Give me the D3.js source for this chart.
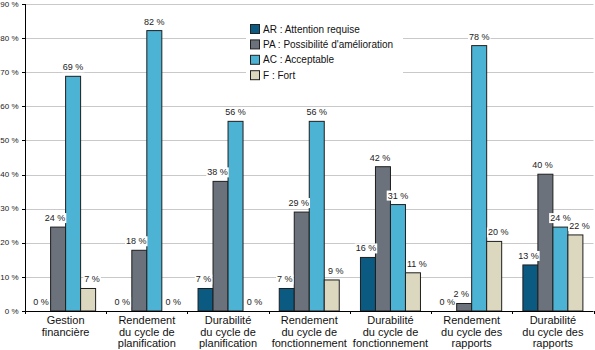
<!DOCTYPE html>
<html>
<head>
<meta charset="utf-8">
<script src="https://cdn.jsdelivr.net/npm/d3@7/dist/d3.min.js"></script>
<style>
  body { margin: 0; background: #fff; }
  svg { display: block; font-family: "Liberation Sans", Arial, sans-serif; }
</style>
</head>
<body>
<svg id="chart" width="595" height="350"></svg>
<script>
// categories (multi-line labels)
const categories = [
    ["Gestion", "financière"],
    ["Rendement", "du cycle de", "planification"],
    ["Durabilité", "du cycle de", "planification"],
    ["Rendement", "du cycle de", "fonctionnement"],
    ["Durabilité", "du cycle de", "fonctionnement"],
    ["Rendement", "du cycle des", "rapports"],
    ["Durabilité", "du cycle des", "rapports"]
]

const series = ["AR", "PA", "AC", "F"]
const seriesNames = ["AR : Attention requise", "PA : Possibilité d'amélioration", "AC : Acceptable", "F : Fort"]
const colors = ["#0b5a82", "#6b727b", "#4db3d4", "#dcd8bf"]

// values
const valuesAR = [0, 0, 6.6, 6.6, 15.7, 0, 13.5]
const valuesPA = [24.6, 17.8, 38.0, 29.0, 42.3, 2.2, 40.1]
const valuesAC = [68.8, 82.2, 55.6, 55.6, 31.2, 77.8, 24.6]
const valuesF = [6.6, 0, 0, 9.1, 11.2, 20.4, 22.3]

// printed labels
const labelsAR = ["0 %", "0 %", "7 %", "7 %", "16 %", "0 %", "13 %"]
const labelsPA = ["24 %", "18 %", "38 %", "29 %", "42 %", "2 %", "40 %"]
const labelsAC = ["69 %", "82 %", "56 %", "56 %", "31 %", "78 %", "24 %"]
const labelsF = ["7 %", "0 %", "0 %", "9 %", "11 %", "20 %", "22 %"]

const yTicks = [0, 10, 20, 30, 40, 50, 60, 70, 80, 90]

const allValues = [valuesAR, valuesPA, valuesAC, valuesF]
const allLabels = [labelsAR, labelsPA, labelsAC, labelsF]
const labelShift = [-2, -3, 0, 4]

const svg = d3.select("#chart")

const x0 = d3.scaleBand()
    .domain(d3.range(categories.length))
    .range([25, 593.5])
    .padding(0)

const groupWidth = 60
const x1 = d3.scaleBand()
    .domain(series)
    .range([0, groupWidth])

const y = d3.scaleLinear()
    .domain([0, 90])
    .range([311, 4])

// gridlines
svg.append("g")
    .selectAll("line")
    .data(yTicks.slice(1))
    .join("line")
    .attr("x1", 25)
    .attr("x2", 593.5)
    .attr("y1", d => Math.round(y(d)) + 0.5)
    .attr("y2", d => Math.round(y(d)) + 0.5)
    .style("stroke", "#c9c9c9")
    .style("stroke-width", 1)

// legend background
svg.append("rect")
    .attr("x", 246)
    .attr("y", 16)
    .attr("width", 157)
    .attr("height", 70)
    .style("fill", "#fff")

// bars
const rows = []
for (let s = 0; s < series.length; s++) {
    for (let i = 0; i < categories.length; i++) {
        rows.push({
            serie: series[s],
            s: s,
            i: i,
            value: allValues[s][i],
            label: allLabels[s][i]
        })
    }
}

const offset = (x0.bandwidth() - groupWidth) / 2

svg.append("g")
    .selectAll("rect")
    .data(rows.filter(d => d.value > 0))
    .join("rect")
    .attr("x", d => x0(d.i) + offset + x1(d.serie))
    .attr("y", d => y(d.value))
    .attr("width", x1.bandwidth())
    .attr("height", d => y(0) - y(d.value))
    .style("fill", d => colors[d.s])
    .style("stroke", "#1e1e1e")
    .style("stroke-width", 1)

// value labels with white background
const labelG = svg.append("g")
const labs = labelG.selectAll("g")
    .data(rows)
    .join("g")

labs.append("text")
    .attr("x", d => x0(d.i) + offset + x1(d.serie) + x1.bandwidth() / 2 + labelShift[d.s])
    .attr("y", d => y(d.value) - 6)
    .attr("text-anchor", "middle")
    .style("font-size", "9px")
    .style("fill", "#222")
    .text(d => d.label)

labs.each(function () {
    const g = d3.select(this)
    const bb = g.select("text").node().getBBox()
    g.insert("rect", "text")
        .attr("x", bb.x - 1)
        .attr("y", bb.y)
        .attr("width", bb.width + 2)
        .attr("height", bb.height)
        .style("fill", "#fff")
})

// y axis
const yAxis = svg.append("g")
yAxis.append("line")
    .attr("x1", 25.5).attr("x2", 25.5)
    .attr("y1", y(90)).attr("y2", y(0))
    .style("stroke", "#000")
yAxis.selectAll(".tick")
    .data(yTicks)
    .join("line")
    .attr("x1", 22).attr("x2", 25.5)
    .attr("y1", d => Math.round(y(d)) + 0.5)
    .attr("y2", d => Math.round(y(d)) + 0.5)
    .style("stroke", "#000")
yAxis.selectAll("text")
    .data(yTicks)
    .join("text")
    .attr("x", 18.5)
    .attr("y", d => y(d))
    .attr("dy", "0.34em")
    .attr("text-anchor", "end")
    .style("font-size", "8px")
    .style("fill", "#222")
    .text(d => d + " %")

// x axis
const xAxis = svg.append("g")
xAxis.append("line")
    .attr("x1", 25).attr("x2", 593.5)
    .attr("y1", Math.round(y(0)) + 0.5).attr("y2", Math.round(y(0)) + 0.5)
    .style("stroke", "#000")
xAxis.selectAll("line.tk")
    .data(d3.range(categories.length + 1))
    .join("line")
    .attr("class", "tk")
    .attr("x1", d => Math.round(x0.range()[0] + d * x0.bandwidth()) + 0.5)
    .attr("x2", d => Math.round(x0.range()[0] + d * x0.bandwidth()) + 0.5)
    .attr("y1", y(0))
    .attr("y2", y(0) + 3)
    .style("stroke", "#000")

const catText = xAxis.selectAll("text")
    .data(categories)
    .join("text")
    .attr("x", (d, i) => x0(i) + x0.bandwidth() / 2)
    .attr("y", 324)
    .attr("text-anchor", "middle")
    .style("font-size", "11px")
    .style("fill", "#111")

catText.selectAll("tspan")
    .data(d => d)
    .join("tspan")
    .attr("x", function () { return d3.select(this.parentNode).attr("x") })
    .attr("dy", (d, k) => k === 0 ? 0 : 11.5)
    .text(d => d)

// legend
const legend = svg.append("g")
    .selectAll("g")
    .data(seriesNames)
    .join("g")
    .attr("transform", (d, i) => `translate(250, ${24 + i * 15.4})`)

legend.append("rect")
    .attr("x", 0.5)
    .attr("y", 0.5)
    .attr("width", 9)
    .attr("height", 9)
    .style("fill", (d, i) => colors[i])
    .style("stroke", "#222")

legend.append("text")
    .attr("x", 13)
    .attr("y", 8.5)
    .style("font-size", "10px")
    .style("fill", "#111")
    .text(d => d)
</script>
</body>
</html>
